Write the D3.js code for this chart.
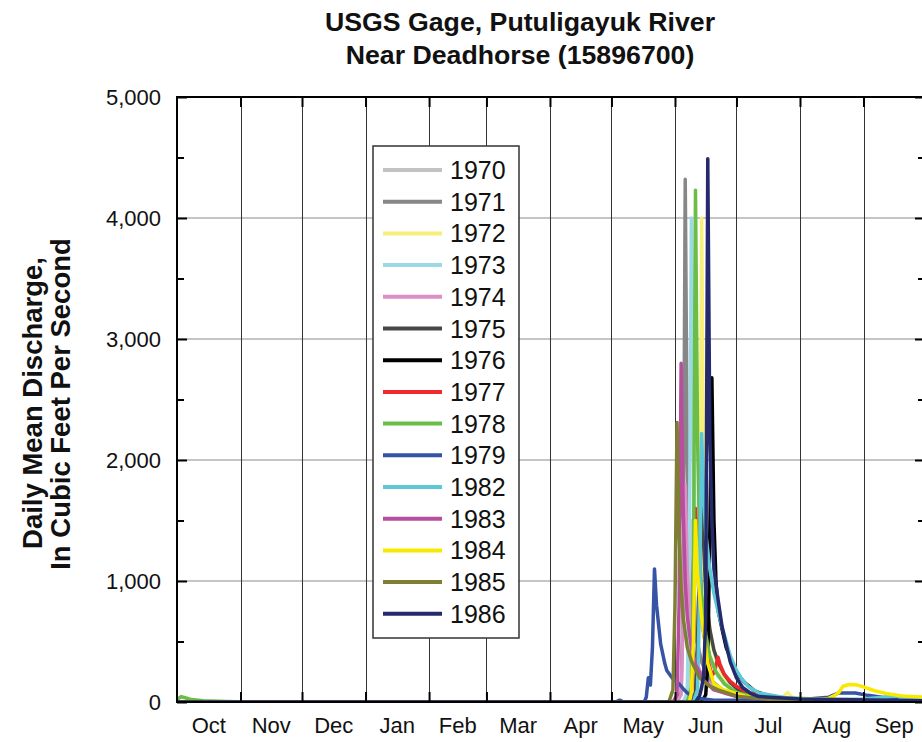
<!DOCTYPE html>
<html>
<head>
<meta charset="utf-8">
<script src="https://cdn.jsdelivr.net/npm/d3@7"></script>
<style>
  html, body { margin: 0; padding: 0; background: #fff; }
  svg { display: block; font-family: "Liberation Sans", Arial, Helvetica, sans-serif; }
</style>
</head>
<body>
<svg id="chart" width="922" height="742"></svg>
<script>
// Daily mean discharge (cfs), water year Oct 1 – Sep 30, as [month-day, value] readings.
const years = ["1970", "1971", "1972", "1973", "1974", "1975", "1976", "1977",
               "1978", "1979", "1982", "1983", "1984", "1985", "1986"];

const flow1970 = [["10-01",0],["06-05",0],["06-07",60],["06-08",500],["06-09",1500],["06-10",1000],
  ["06-11",650],["06-13",400],["06-16",230],["06-20",130],["06-26",70],["07-05",35],["07-20",15],
  ["08-15",8],["09-30",5]];
const flow1971 = [["10-01",0],["06-02",0],["06-04",80],["06-05",900],["06-06",4320],["06-07",2000],
  ["06-08",1200],["06-09",850],["06-11",550],["06-14",330],["06-18",190],["06-24",100],["07-02",50],
  ["07-15",25],["08-10",12],["09-30",6]];
const flow1972 = [["10-01",0],["06-10",0],["06-12",60],["06-13",900],["06-14",4000],["06-15",1800],
  ["06-16",1100],["06-17",750],["06-19",480],["06-22",300],["06-26",170],["07-01",100],["07-10",50],
  ["07-20",30],["07-24",45],["07-26",80],["07-28",40],["08-05",20],["09-30",8]];
const flow1973 = [["10-01",0],["06-05",0],["06-07",80],["06-08",1100],["06-09",4000],["06-10",2100],
  ["06-11",1300],["06-13",800],["06-15",550],["06-18",350],["06-22",210],["06-28",110],["07-05",60],
  ["07-20",30],["08-15",15],["09-30",8]];
const flow1974 = [["10-01",0],["06-02",0],["06-04",60],["06-05",700],["06-06",1800],["06-07",1100],
  ["06-08",700],["06-10",420],["06-13",260],["06-18",150],["06-25",80],["07-05",40],["07-20",20],
  ["09-30",6]];
const flow1975 = [["10-01",0],["06-09",0],["06-11",80],["06-12",500],["06-13",1200],["06-14",1900],
  ["06-15",1300],["06-16",900],["06-18",600],["06-20",430],["06-22",330],["06-25",230],["06-28",160],
  ["07-02",100],["07-08",60],["07-20",30],["08-15",15],["09-30",8]];
const flow1976 = [["10-01",0],["06-14",0],["06-16",60],["06-17",300],["06-18",1400],["06-19",2680],
  ["06-20",1500],["06-21",1000],["06-22",760],["06-24",600],["06-26",450],["06-28",370],["06-30",280],
  ["07-03",200],["07-05",160],["07-10",90],["07-15",60],["07-25",30],["08-15",15],["09-30",8]];
const flow1977 = [["10-01",0],["06-07",0],["06-09",60],["06-10",500],["06-11",1600],["06-12",1300],
  ["06-13",950],["06-15",580],["06-17",350],["06-19",220],["06-20",240],["06-22",370],["06-23",310],
  ["06-25",230],["06-28",170],["07-01",130],["07-05",90],["07-10",60],["07-20",28],["08-05",12],
  ["09-30",6]];
const flow1978 = [["10-01",20],["10-03",45],["10-05",35],["10-08",20],["10-14",10],["10-25",4],
  ["11-05",0],["06-07",0],["06-09",120],["06-10",1000],["06-11",4230],["06-12",2200],["06-13",1300],
  ["06-14",900],["06-16",560],["06-18",380],["06-21",250],["06-25",150],["07-01",80],["07-10",40],
  ["07-25",20],["09-30",8]];
const flow1979 = [["10-01",0],["05-03",0],["05-05",15],["05-07",0],["05-17",0],["05-18",40],
  ["05-19",200],["05-20",140],["05-21",450],["05-22",1100],["05-23",800],["05-24",640],["05-25",480],
  ["05-26",400],["05-27",320],["05-28",260],["05-31",190],["06-03",150],["06-05",110],["06-07",75],
  ["06-10",45],["06-13",28],["06-20",15],["07-10",15],["08-05",25],["08-15",40],["08-20",75],
  ["08-28",75],["09-03",55],["09-10",40],["09-20",30],["09-30",25]];
const flow1982 = [["10-01",0],["06-10",0],["06-12",100],["06-13",900],["06-14",2220],["06-15",1700],
  ["06-16",1400],["06-18",1100],["06-20",900],["06-22",750],["06-24",620],["06-26",500],["06-28",380],
  ["07-01",260],["07-04",180],["07-07",125],["07-12",75],["07-25",35],["08-15",20],["09-01",25],
  ["09-17",50],["09-20",30],["09-30",20]];
const flow1983 = [["10-01",0],["05-31",0],["06-02",60],["06-03",800],["06-04",2800],["06-05",1600],
  ["06-06",1000],["06-07",700],["06-09",450],["06-11",310],["06-15",180],["06-20",100],["07-01",45],
  ["07-20",20],["09-30",6]];
const flow1984 = [["10-01",0],["06-08",0],["06-09",80],["06-10",500],["06-11",1500],["06-12",1060],
  ["06-14",700],["06-17",320],["06-20",150],["06-25",100],["07-05",50],["07-20",25],["08-10",22],
  ["08-15",30],["08-18",55],["08-20",80],["08-22",130],["08-25",145],["08-29",140],["09-01",125],
  ["09-06",95],["09-12",70],["09-20",50],["09-30",40]];
const flow1985 = [["10-01",0],["05-29",0],["05-31",100],["06-01",800],["06-02",2310],["06-03",1400],
  ["06-04",950],["06-05",700],["06-07",450],["06-09",340],["06-13",200],["06-18",130],["06-22",100],
  ["07-02",45],["07-20",20],["09-30",8]];
const flow1986 = [["10-01",0],["06-11",0],["06-13",50],["06-14",120],["06-15",220],["06-16",700],
  ["06-17",4490],["06-18",2200],["06-19",1500],["06-20",1100],["06-22",850],["06-24",620],["06-26",470],
  ["06-28",330],["07-01",200],["07-04",120],["07-08",70],["07-12",45],["08-01",25],["09-30",10]];

const seriesFlows = [flow1970, flow1971, flow1972, flow1973, flow1974, flow1975, flow1976, flow1977,
                     flow1978, flow1979, flow1982, flow1983, flow1984, flow1985, flow1986];

const seriesColors = ["#c3c3c3", "#878787", "#f6ef7c", "#9cd9e5", "#dc8ec6", "#474747", "#000000",
                      "#ee2a2e", "#6abd47", "#3653a5", "#5ec8d9", "#b84f9e", "#f8e900", "#7e7f34", "#252a6d"];

const monthLabels = ["Oct", "Nov", "Dec", "Jan", "Feb", "Mar", "Apr", "May", "Jun", "Jul", "Aug", "Sep"];
const yTicks = [0, 1000, 2000, 3000, 4000, 5000];
const yMinorTicks = [500, 1500, 2500, 3500, 4500];

// Water year 2000-10-01 .. 2001-10-01 used as a common calendar for every year.
function toDate(md) {
  const [m, d] = md.split("-").map(Number);
  return new Date(m >= 10 ? 2000 : 2001, m - 1, d);
}

const svg = d3.select("#chart");
const plot = { left: 177, right: 925, top: 97, bottom: 702 };

const x = d3.scaleTime()
  .domain([new Date(2000, 9, 1), new Date(2001, 9, 1)])
  .range([plot.left, plot.right]);
const y = d3.scaleLinear().domain([0, 5000]).range([plot.bottom, plot.top]);

const monthStarts = d3.timeMonth.range(new Date(2000, 9, 1), new Date(2001, 9, 2));

// Title
const title = svg.append("g").attr("font-weight", "bold").attr("font-size", 26.7).attr("fill", "#111")
  .attr("text-anchor", "middle");
title.append("text").attr("x", 520).attr("y", 31).text("USGS Gage, Putuligayuk River");
title.append("text").attr("x", 520).attr("y", 64).text("Near Deadhorse (15896700)");

// Y axis title
const yt = svg.append("g").attr("font-weight", "bold").attr("font-size", 27.5).attr("fill", "#111")
  .attr("text-anchor", "middle");
yt.append("text").attr("transform", "translate(42,403) rotate(-90)").text("Daily Mean Discharge,");
yt.append("text").attr("transform", "translate(70,404) rotate(-90)").text("In Cubic Feet Per Second");

// Grid
const grid = svg.append("g");
grid.selectAll("line.h").data(yTicks.filter(v => v > 0 && v < 5000)).join("line")
  .attr("x1", plot.left).attr("x2", plot.right)
  .attr("y1", d => y(d)).attr("y2", d => y(d))
  .attr("stroke", "#8c8c8c").attr("stroke-width", 1.2);
grid.selectAll("line.v").data(monthStarts.slice(1, 12)).join("line")
  .attr("x1", d => Math.round(x(d)) + 0.5).attr("x2", d => Math.round(x(d)) + 0.5)
  .attr("y1", plot.top).attr("y2", plot.bottom)
  .attr("stroke", "#333").attr("stroke-width", 1);

// Data lines
svg.append("clipPath").attr("id", "plotclip").append("rect")
  .attr("x", plot.left).attr("y", plot.top - 5)
  .attr("width", plot.right - plot.left).attr("height", plot.bottom - plot.top + 5);

const line = d3.line().x(d => x(toDate(d[0]))).y(d => y(d[1]));
svg.append("g").attr("clip-path", "url(#plotclip)")
  .selectAll("path").data(seriesFlows).join("path")
  .attr("d", line)
  .attr("fill", "none")
  .attr("stroke", (d, i) => seriesColors[i])
  .attr("stroke-width", 3.5)
  .attr("stroke-linejoin", "round")
  .attr("stroke-linecap", "round");

// Frame and ticks
const frame = svg.append("g").attr("stroke", "#000");
frame.append("path")
  .attr("d", `M${plot.right},${plot.top}H${plot.left}V${plot.bottom}H${plot.right}Z`)
  .attr("fill", "none").attr("stroke-width", 2);

const yAxisL = d3.axisRight(y).tickValues(yTicks).tickSize(10).tickFormat("");
const yAxisR = d3.axisLeft(y).tickValues(yTicks).tickSize(10).tickFormat("");
const yMinorL = d3.axisRight(y).tickValues(yMinorTicks).tickSize(7).tickFormat("");
const yMinorR = d3.axisLeft(y).tickValues(yMinorTicks).tickSize(7).tickFormat("");
const xTop = d3.axisBottom(x).tickValues(monthStarts.slice(1, 12)).tickSize(10).tickFormat("");
const xBot = d3.axisTop(x).tickValues(monthStarts.slice(1, 12)).tickSize(10).tickFormat("");

function styleAxis(g) {
  g.select(".domain").remove();
  g.selectAll(".tick line").attr("stroke", "#000").attr("stroke-width", 2);
}
svg.append("g").attr("transform", `translate(${plot.left},0)`).call(yAxisL).call(styleAxis);
svg.append("g").attr("transform", `translate(${plot.left},0)`).call(yMinorL).call(styleAxis);
svg.append("g").attr("transform", `translate(${plot.right},0)`).call(yAxisR).call(styleAxis);
svg.append("g").attr("transform", `translate(${plot.right},0)`).call(yMinorR).call(styleAxis);
svg.append("g").attr("transform", `translate(0,${plot.top})`).call(xTop).call(styleAxis);
svg.append("g").attr("transform", `translate(0,${plot.bottom})`).call(xBot).call(styleAxis);

// Tick labels
const fmt = d3.format(",");
svg.append("g").attr("font-size", 22).attr("fill", "#111").attr("text-anchor", "end")
  .selectAll("text").data(yTicks).join("text")
  .attr("x", 161).attr("y", d => y(d) + 8).text(d => fmt(d));

svg.append("g").attr("font-size", 22).attr("fill", "#111").attr("text-anchor", "middle")
  .selectAll("text").data(monthStarts.slice(0, 12)).join("text")
  .attr("x", (d, i) => (x(d) + x(monthStarts[i + 1])) / 2)
  .attr("y", 733)
  .text((d, i) => monthLabels[i]);

// Legend
const legend = svg.append("g");
legend.append("rect").attr("x", 373).attr("y", 146).attr("width", 146).attr("height", 492)
  .attr("fill", "#fff").attr("stroke", "#333").attr("stroke-width", 1.5);
const rows = legend.selectAll("g.row").data(years).join("g")
  .attr("transform", (d, i) => `translate(0,${170 + i * 31.7})`);
rows.append("line").attr("x1", 383).attr("x2", 442).attr("y1", 0).attr("y2", 0)
  .attr("stroke", (d, i) => seriesColors[i]).attr("stroke-width", 4);
rows.append("text").attr("x", 450).attr("y", 9).attr("font-size", 25).attr("fill", "#111")
  .text(d => d);
</script>
</body>
</html>
